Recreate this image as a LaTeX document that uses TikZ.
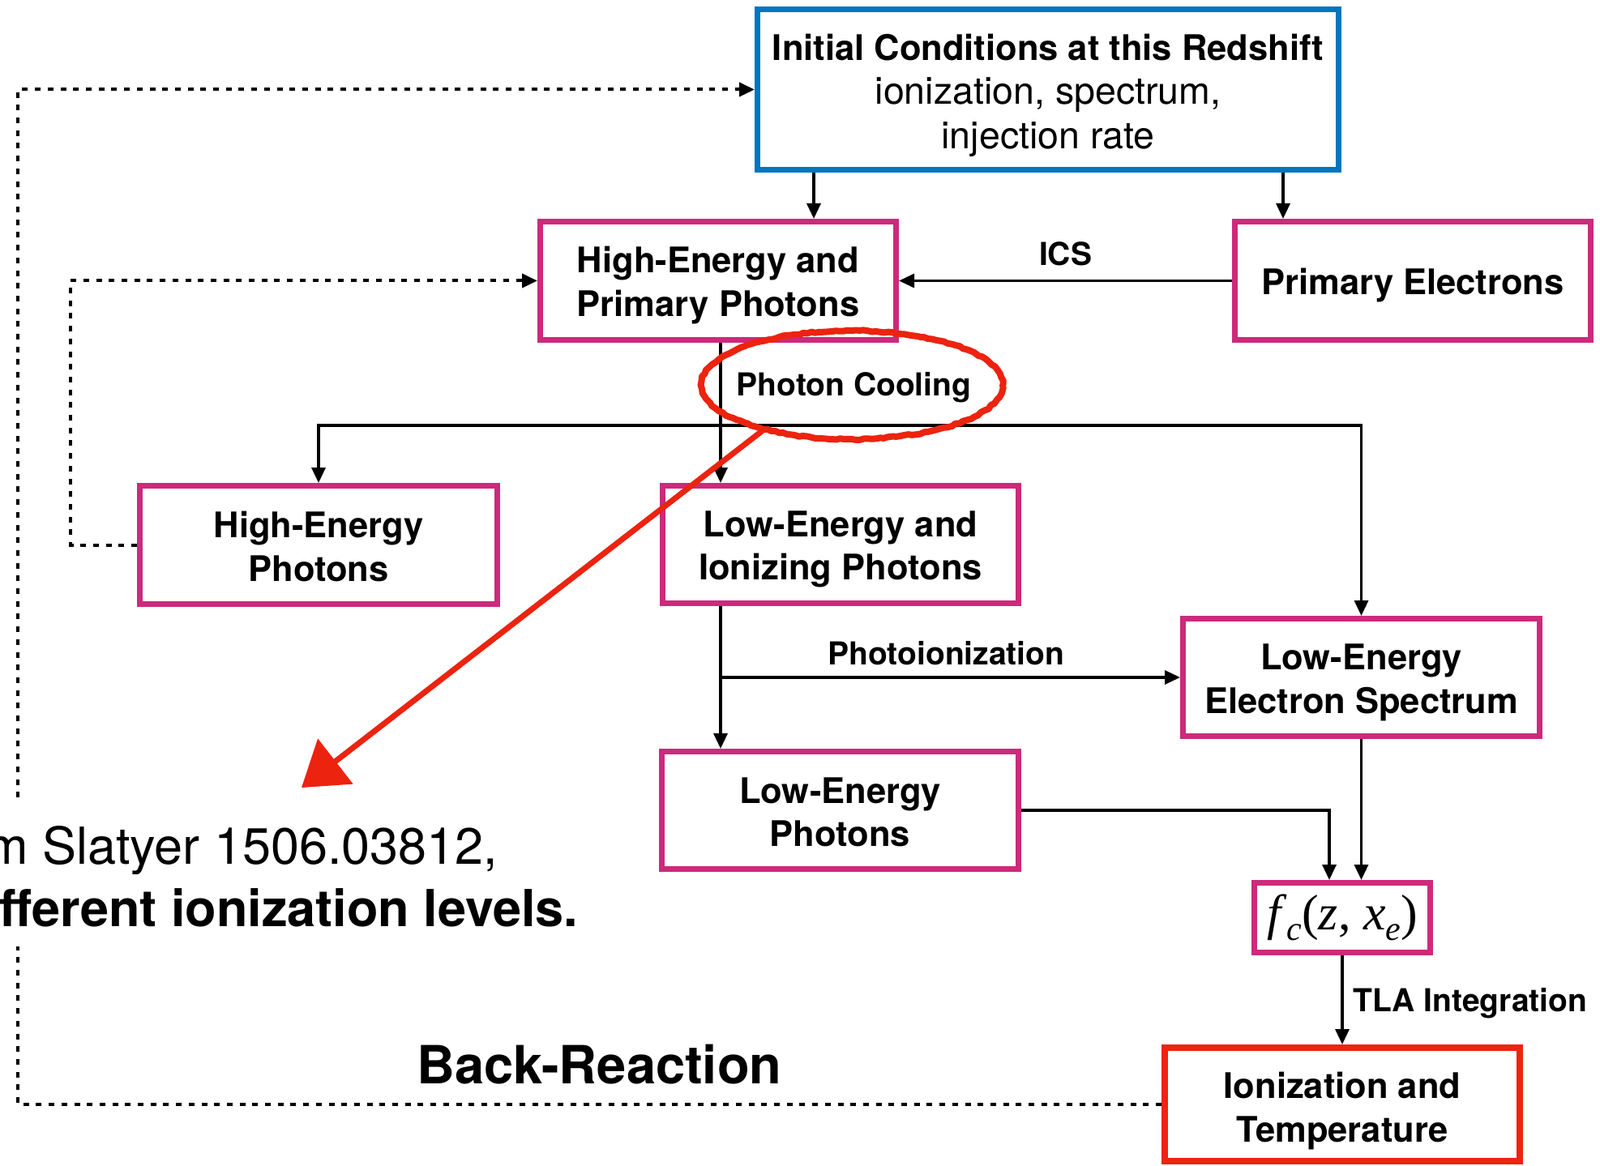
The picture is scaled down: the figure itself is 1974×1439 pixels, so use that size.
\documentclass[tikz,border=0pt]{standalone}
\usepackage{fontspec}
\setmainfont{TeX Gyre Heros}
\newfontfamily\serifmath{Liberation Serif}
\usetikzlibrary{arrows.meta, decorations.pathmorphing}
\definecolor{mag}{RGB}{204,42,123}
\definecolor{icblue}{RGB}{0,118,192}
\definecolor{boxred}{RGB}{238,36,18}
\definecolor{penred}{RGB}{236,35,15}
\newcommand{\regline}{\mdseries\fontsize{46.5}{54.5}\selectfont}
\begin{document}
\begin{tikzpicture}[x=1pt, y=-1pt,
  box/.style={draw=mag, line width=7pt, inner sep=0pt, align=center,
    font=\bfseries\fontsize{43.5}{53.5}\selectfont},
  arr/.style={line width=3.3pt, -{Triangle[length=19pt,width=17pt]}},
  fb/.style={line width=4pt, dash pattern=on 7pt off 8.7pt, -{Triangle[length=19pt,width=17pt]}},
  lbl/.style={font=\bfseries\fontsize{39}{39}\selectfont, inner sep=0pt},
  pen/.style={draw=penred, line join=round, line cap=round},
]
\useasboundingbox (0,0) rectangle (1974,1439);

% boxes
\node[box, draw=icblue, minimum width=717, minimum height=198, text height=156pt,
      font=\bfseries\fontsize{43.5}{54.5}\selectfont] (init) at (1293,110.5)
  {Initial Conditions at this Redshift\\ \regline ionization, spectrum,\\ \regline injection rate};
\node[box, minimum width=439, minimum height=146, text height=97pt] (hep) at (886,346.5) {High-Energy and\\Primary Photons};
\node[box, minimum width=439, minimum height=146, text height=44pt] (pe) at (1743,346.5) {Primary Electrons};
\node[box, minimum width=441, minimum height=146, text height=89.5pt] (hp) at (393,672.5) {High-Energy\\Photons};
\node[box, minimum width=439, minimum height=145, text height=97pt] (lei) at (1037,672) {Low-Energy and\\Ionizing Photons};
\node[box, minimum width=440, minimum height=145, text height=98pt] (lees) at (1679.5,836) {Low-Energy\\Electron Spectrum};
\node[box, minimum width=440, minimum height=145, text height=89.5pt] (lep) at (1036.5,1000) {Low-Energy\\Photons};
\node[box, minimum width=217, minimum height=86, font=\serifmath\fontsize{62}{62}\selectfont] (fc) at (1656,1132.5)
  {\textit{f}\raisebox{-13pt}{\fontsize{42}{42}\selectfont\textit{c}}(\textit{z}, \textit{x}\raisebox{-13pt}{\fontsize{42}{42}\selectfont\textit{e}})};
\node[box, draw=boxred, line width=8pt, minimum width=438, minimum height=140, text height=102pt] (it) at (1656,1363) {Ionization and\\Temperature};

% solid connectors
\draw[arr] (1004,0 |- init.south) -- (1004,0 |- hep.north);
\draw[arr] (1583,0 |- init.south) -- (1583,0 |- pe.north);
\draw[arr] (pe.west) -- node[lbl, anchor=base, yshift=18.5] (ics) {ICS} (hep.east);
\draw[arr] (889,0 |- hep.south) -- (889,0 |- lei.north);
\node[lbl, anchor=base] (pc) at (1053.5,488) {Photon Cooling};
\coordinate (split) at (889,525);
\draw[arr] (split) -| (hp.north);
\draw[arr] (split) -| (lees.north);
\draw[arr] (889,0 |- lei.south) -- (889,0 |- lep.north);
\coordinate (pisplit) at (889,836);
\draw[arr] (pisplit) -- node[lbl, anchor=base, yshift=16, xshift=-5] (pilbl) {Photoionization} (lees.west);
\draw[arr] (lep.east) -| (1640,0 |- fc.north);
\draw[arr] (lees.south) -- (lees.south |- fc.north);
\draw[arr] (fc.south) -- node[lbl, anchor=base west, xshift=12, yshift=-14] (tla) {TLA Integration} (it.north);

% dotted feedback connectors
\draw[fb] (hp.west) -- (87,0 |- hp.west) |- (hep.west);
\draw[fb] (it.west) -- (22,0 |- it.west) |- (init.west);

% red hand-drawn annotation
\draw[pen, line width=8pt, decorate, decoration={random steps, segment length=5pt, amplitude=1pt}]
  (1051,475) ellipse [x radius=186, y radius=67];
\coordinate (rtail) at (940,532);
\coordinate (rtip) at (372,972);
\draw[pen, line width=7pt, -{Triangle[length=53pt,width=71pt,line width=0pt]}] (rtail) -- (rtip);

% notes (cut at left edge)
\node[fill=white, inner sep=0pt, anchor=base west, text height=74pt, text depth=13pt,
      font=\fontsize{63}{63}\selectfont] (note1) at (-18,1066) {m Slatyer 1506.03812,};
\node[fill=white, inner sep=0pt, anchor=base west, text height=64pt, text depth=25pt,
      font=\bfseries\fontsize{63}{63}\selectfont] (note2) at (-1,1143) {fferent ionization levels.};
\node[font=\bfseries\fontsize{65}{65}\selectfont, anchor=base west, inner sep=0pt] (br) at (514,1337) {Back-Reaction};
\end{tikzpicture}
\end{document}
